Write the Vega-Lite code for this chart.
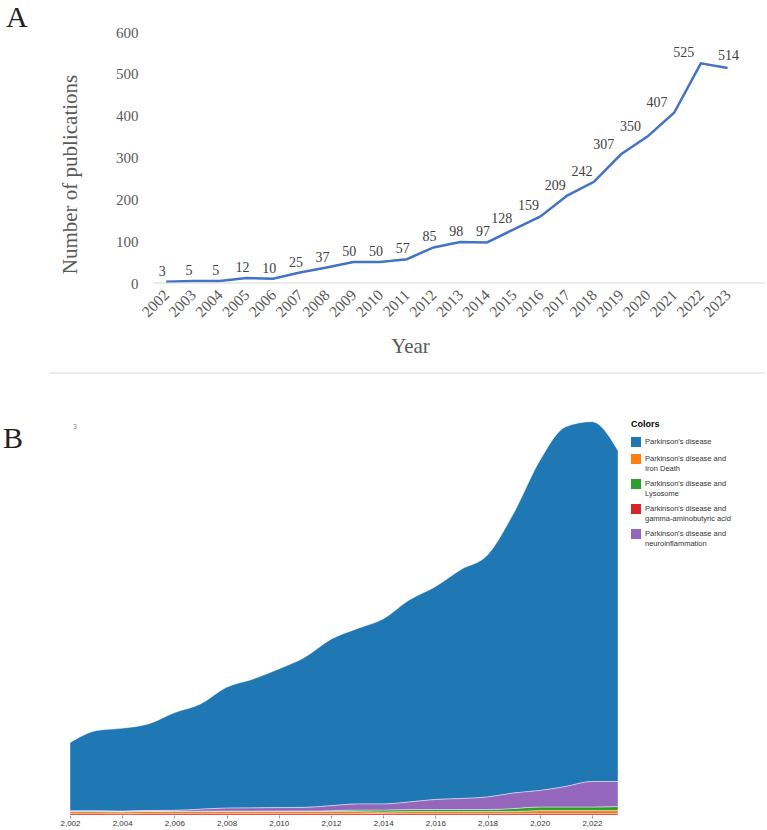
{
  "$schema": "https://vega.github.io/schema/vega-lite/v6.json",
  "background": "white",
  "padding": {"left": 3, "top": 3, "right": 0, "bottom": 0},
  "config": {"view": {"stroke": null}, "font": "Liberation Sans", "axisX": {"labelOverlap": false}},
  "bounds": "flush",
  "spacing": 47,
  "resolve": {"scale": {"color": "independent"}, "legend": {"color": "independent"}},
  "vconcat": [
    {
      "width": 695,
      "height": 251,
      "title": {"text": "A", "anchor": "start", "frame": "group", "font": "Liberation Serif", "fontSize": 30, "fontWeight": "normal", "color": "#222222", "dx": -64, "dy": 8, "offset": 0},
      "data": {"values": [
        {"year": 2002, "count": 3}, {"year": 2003, "count": 5}, {"year": 2004, "count": 5}, {"year": 2005, "count": 12},
        {"year": 2006, "count": 10}, {"year": 2007, "count": 25}, {"year": 2008, "count": 37}, {"year": 2009, "count": 50},
        {"year": 2010, "count": 50}, {"year": 2011, "count": 57}, {"year": 2012, "count": 85}, {"year": 2013, "count": 98},
        {"year": 2014, "count": 97}, {"year": 2015, "count": 128}, {"year": 2016, "count": 159}, {"year": 2017, "count": 209},
        {"year": 2018, "count": 242}, {"year": 2019, "count": 307}, {"year": 2020, "count": 350}, {"year": 2021, "count": 407},
        {"year": 2022, "count": 525}, {"year": 2023, "count": 514}
      ]},
      "layer": [
        {
          "mark": {"type": "line", "color": "#4472c4", "strokeWidth": 2.5},
          "encoding": {
            "x": {"field": "year", "type": "quantitative", "scale": {"domain": [1998.4, 2024.4], "nice": false, "zero": false},
              "axis": {"title": "Year", "values": [2002,2003,2004,2005,2006,2007,2008,2009,2010,2011,2012,2013,2014,2015,2016,2017,2018,2019,2020,2021,2022,2023],
                "tickCount": 40, "format": "d", "labelAngle": -45, "labelAlign": "right", "labelBaseline": "middle", "labelPadding": 9, "labelOverlap": false, "labelFlush": false, "labelBound": false,
                "ticks": false, "domain": false, "grid": false, "labelFont": "Liberation Serif", "labelFontSize": 15.5, "labelColor": "#595959",
                "titleFont": "Liberation Serif", "titleFontSize": 21, "titleFontWeight": "normal", "titleColor": "#595959",
                "titleX": 340, "titleY": 63, "titleAlign": "center", "titleBaseline": "middle", "titleAnchor": null}},
            "y": {"field": "count", "type": "quantitative", "scale": {"domain": [0, 600], "nice": false},
              "axis": {"title": "Number of publications", "offset": -83, "domain": false, "ticks": false, "grid": false,
                "values": [0, 100, 200, 300, 400, 500, 600], "labelFont": "Liberation Serif", "labelFontSize": 15, "labelColor": "#595959", "labelPadding": 15,
                "titleFont": "Liberation Serif", "titleFontSize": 21, "titleFontWeight": "normal", "titleColor": "#595959",
                "titleX": -83, "titleY": 142, "titleAngle": -90, "titleAlign": "center", "titleBaseline": "middle", "titleAnchor": null}}
          }
        },
        {
          "data": {"values": [{}]},
          "mark": {"type": "rule", "color": "#d9d9d9", "strokeWidth": 1},
          "encoding": {
            "x": {"datum": 2001.5, "type": "quantitative"},
            "x2": {"datum": 2024.4},
            "y": {"datum": 0, "type": "quantitative"}
          }
        },
        {
          "transform": [{"filter": "datum.year <= 2014"}],
          "mark": {"type": "text", "font": "Liberation Serif", "fontSize": 14, "color": "#404040", "dx": -4, "dy": -10, "baseline": "middle"},
          "encoding": {"x": {"field": "year", "type": "quantitative"}, "y": {"field": "count", "type": "quantitative"}, "text": {"field": "count", "type": "quantitative"}}
        },
        {
          "transform": [{"filter": "datum.year >= 2015 && datum.year <= 2018"}],
          "mark": {"type": "text", "font": "Liberation Serif", "fontSize": 14, "color": "#404040", "dx": -12, "dy": -10, "baseline": "middle"},
          "encoding": {"x": {"field": "year", "type": "quantitative"}, "y": {"field": "count", "type": "quantitative"}, "text": {"field": "count", "type": "quantitative"}}
        },
        {
          "transform": [{"filter": "datum.year >= 2019 && datum.year <= 2022"}],
          "mark": {"type": "text", "font": "Liberation Serif", "fontSize": 14, "color": "#404040", "dx": -17, "dy": -10, "baseline": "middle"},
          "encoding": {"x": {"field": "year", "type": "quantitative"}, "y": {"field": "count", "type": "quantitative"}, "text": {"field": "count", "type": "quantitative"}}
        },
        {
          "transform": [{"filter": "datum.year == 2023"}],
          "mark": {"type": "text", "font": "Liberation Serif", "fontSize": 14, "color": "#404040", "dx": 1, "dy": -12, "baseline": "middle"},
          "encoding": {"x": {"field": "year", "type": "quantitative"}, "y": {"field": "count", "type": "quantitative"}, "text": {"field": "count", "type": "quantitative"}}
        }
      ]
    },
    {
      "width": 695,
      "height": 43,
      "data": {"values": [{}]},
      "mark": {"type": "rule", "color": "#d9d9d9", "strokeWidth": 1.2},
      "encoding": {
        "x": {"datum": -0.03, "type": "quantitative", "scale": {"domain": [0, 1], "nice": false}, "axis": null},
        "x2": {"datum": 1},
        "y": {"datum": 0, "type": "quantitative", "scale": {"domain": [0, 1]}, "axis": null}
      }
    },
    {
      "width": 548,
      "height": 395,
      "title": {"text": "B", "anchor": "start", "frame": "group", "font": "Liberation Serif", "fontSize": 30, "fontWeight": "normal", "color": "#222222", "dx": -67, "dy": 34, "offset": 0},
      "data": {"values": [
        {"year": 2002, "series": "Parkinson's disease", "value": 68.2},
        {"year": 2003, "series": "Parkinson's disease", "value": 80.2},
        {"year": 2004, "series": "Parkinson's disease", "value": 82.9},
        {"year": 2005, "series": "Parkinson's disease", "value": 86.5},
        {"year": 2006, "series": "Parkinson's disease", "value": 97.7},
        {"year": 2007, "series": "Parkinson's disease", "value": 105.2},
        {"year": 2008, "series": "Parkinson's disease", "value": 120.8},
        {"year": 2009, "series": "Parkinson's disease", "value": 128.6},
        {"year": 2010, "series": "Parkinson's disease", "value": 138.6},
        {"year": 2011, "series": "Parkinson's disease", "value": 150.1},
        {"year": 2012, "series": "Parkinson's disease", "value": 166.4},
        {"year": 2013, "series": "Parkinson's disease", "value": 175.3},
        {"year": 2014, "series": "Parkinson's disease", "value": 185.0},
        {"year": 2015, "series": "Parkinson's disease", "value": 202.0},
        {"year": 2016, "series": "Parkinson's disease", "value": 212.8},
        {"year": 2017, "series": "Parkinson's disease", "value": 229.2},
        {"year": 2018, "series": "Parkinson's disease", "value": 242.0},
        {"year": 2019, "series": "Parkinson's disease", "value": 279.7},
        {"year": 2020, "series": "Parkinson's disease", "value": 329.8},
        {"year": 2021, "series": "Parkinson's disease", "value": 359.8},
        {"year": 2022, "series": "Parkinson's disease", "value": 359.8},
        {"year": 2023, "series": "Parkinson's disease", "value": 330.8},
        {"year": 2002, "series": "Parkinson's disease and Iron Death", "value": 2.0},
        {"year": 2003, "series": "Parkinson's disease and Iron Death", "value": 2.0},
        {"year": 2004, "series": "Parkinson's disease and Iron Death", "value": 2.0},
        {"year": 2005, "series": "Parkinson's disease and Iron Death", "value": 2.2},
        {"year": 2006, "series": "Parkinson's disease and Iron Death", "value": 2.0},
        {"year": 2007, "series": "Parkinson's disease and Iron Death", "value": 2.0},
        {"year": 2008, "series": "Parkinson's disease and Iron Death", "value": 2.0},
        {"year": 2009, "series": "Parkinson's disease and Iron Death", "value": 2.0},
        {"year": 2010, "series": "Parkinson's disease and Iron Death", "value": 2.0},
        {"year": 2011, "series": "Parkinson's disease and Iron Death", "value": 2.0},
        {"year": 2012, "series": "Parkinson's disease and Iron Death", "value": 2.0},
        {"year": 2013, "series": "Parkinson's disease and Iron Death", "value": 2.0},
        {"year": 2014, "series": "Parkinson's disease and Iron Death", "value": 1.5},
        {"year": 2015, "series": "Parkinson's disease and Iron Death", "value": 2.0},
        {"year": 2016, "series": "Parkinson's disease and Iron Death", "value": 2.0},
        {"year": 2017, "series": "Parkinson's disease and Iron Death", "value": 2.0},
        {"year": 2018, "series": "Parkinson's disease and Iron Death", "value": 2.0},
        {"year": 2019, "series": "Parkinson's disease and Iron Death", "value": 2.0},
        {"year": 2020, "series": "Parkinson's disease and Iron Death", "value": 3.0},
        {"year": 2021, "series": "Parkinson's disease and Iron Death", "value": 3.0},
        {"year": 2022, "series": "Parkinson's disease and Iron Death", "value": 3.0},
        {"year": 2023, "series": "Parkinson's disease and Iron Death", "value": 3.0},
        {"year": 2002, "series": "Parkinson's disease and Lysosome", "value": 0.3},
        {"year": 2003, "series": "Parkinson's disease and Lysosome", "value": 0.3},
        {"year": 2004, "series": "Parkinson's disease and Lysosome", "value": 0.3},
        {"year": 2005, "series": "Parkinson's disease and Lysosome", "value": 0.3},
        {"year": 2006, "series": "Parkinson's disease and Lysosome", "value": 0.3},
        {"year": 2007, "series": "Parkinson's disease and Lysosome", "value": 0.3},
        {"year": 2008, "series": "Parkinson's disease and Lysosome", "value": 0.4},
        {"year": 2009, "series": "Parkinson's disease and Lysosome", "value": 0.4},
        {"year": 2010, "series": "Parkinson's disease and Lysosome", "value": 0.5},
        {"year": 2011, "series": "Parkinson's disease and Lysosome", "value": 0.5},
        {"year": 2012, "series": "Parkinson's disease and Lysosome", "value": 0.8},
        {"year": 2013, "series": "Parkinson's disease and Lysosome", "value": 1.5},
        {"year": 2014, "series": "Parkinson's disease and Lysosome", "value": 2.0},
        {"year": 2015, "series": "Parkinson's disease and Lysosome", "value": 2.0},
        {"year": 2016, "series": "Parkinson's disease and Lysosome", "value": 2.0},
        {"year": 2017, "series": "Parkinson's disease and Lysosome", "value": 2.0},
        {"year": 2018, "series": "Parkinson's disease and Lysosome", "value": 2.0},
        {"year": 2019, "series": "Parkinson's disease and Lysosome", "value": 3.0},
        {"year": 2020, "series": "Parkinson's disease and Lysosome", "value": 3.5},
        {"year": 2021, "series": "Parkinson's disease and Lysosome", "value": 3.5},
        {"year": 2022, "series": "Parkinson's disease and Lysosome", "value": 3.5},
        {"year": 2023, "series": "Parkinson's disease and Lysosome", "value": 4.0},
        {"year": 2002, "series": "Parkinson's disease and gamma-aminobutyric acid", "value": 1.5},
        {"year": 2003, "series": "Parkinson's disease and gamma-aminobutyric acid", "value": 1.5},
        {"year": 2004, "series": "Parkinson's disease and gamma-aminobutyric acid", "value": 1.2},
        {"year": 2005, "series": "Parkinson's disease and gamma-aminobutyric acid", "value": 1.5},
        {"year": 2006, "series": "Parkinson's disease and gamma-aminobutyric acid", "value": 1.5},
        {"year": 2007, "series": "Parkinson's disease and gamma-aminobutyric acid", "value": 1.5},
        {"year": 2008, "series": "Parkinson's disease and gamma-aminobutyric acid", "value": 1.5},
        {"year": 2009, "series": "Parkinson's disease and gamma-aminobutyric acid", "value": 1.5},
        {"year": 2010, "series": "Parkinson's disease and gamma-aminobutyric acid", "value": 1.5},
        {"year": 2011, "series": "Parkinson's disease and gamma-aminobutyric acid", "value": 1.5},
        {"year": 2012, "series": "Parkinson's disease and gamma-aminobutyric acid", "value": 1.5},
        {"year": 2013, "series": "Parkinson's disease and gamma-aminobutyric acid", "value": 1.5},
        {"year": 2014, "series": "Parkinson's disease and gamma-aminobutyric acid", "value": 1.5},
        {"year": 2015, "series": "Parkinson's disease and gamma-aminobutyric acid", "value": 1.5},
        {"year": 2016, "series": "Parkinson's disease and gamma-aminobutyric acid", "value": 1.5},
        {"year": 2017, "series": "Parkinson's disease and gamma-aminobutyric acid", "value": 1.5},
        {"year": 2018, "series": "Parkinson's disease and gamma-aminobutyric acid", "value": 1.5},
        {"year": 2019, "series": "Parkinson's disease and gamma-aminobutyric acid", "value": 1.5},
        {"year": 2020, "series": "Parkinson's disease and gamma-aminobutyric acid", "value": 1.5},
        {"year": 2021, "series": "Parkinson's disease and gamma-aminobutyric acid", "value": 1.5},
        {"year": 2022, "series": "Parkinson's disease and gamma-aminobutyric acid", "value": 1.5},
        {"year": 2023, "series": "Parkinson's disease and gamma-aminobutyric acid", "value": 1.5},
        {"year": 2002, "series": "Parkinson's disease and neuroinflammation", "value": 0.3},
        {"year": 2003, "series": "Parkinson's disease and neuroinflammation", "value": 0.3},
        {"year": 2004, "series": "Parkinson's disease and neuroinflammation", "value": 0.3},
        {"year": 2005, "series": "Parkinson's disease and neuroinflammation", "value": 0.5},
        {"year": 2006, "series": "Parkinson's disease and neuroinflammation", "value": 0.8},
        {"year": 2007, "series": "Parkinson's disease and neuroinflammation", "value": 2.0},
        {"year": 2008, "series": "Parkinson's disease and neuroinflammation", "value": 3.0},
        {"year": 2009, "series": "Parkinson's disease and neuroinflammation", "value": 3.2},
        {"year": 2010, "series": "Parkinson's disease and neuroinflammation", "value": 3.4},
        {"year": 2011, "series": "Parkinson's disease and neuroinflammation", "value": 3.6},
        {"year": 2012, "series": "Parkinson's disease and neuroinflammation", "value": 5.0},
        {"year": 2013, "series": "Parkinson's disease and neuroinflammation", "value": 6.0},
        {"year": 2014, "series": "Parkinson's disease and neuroinflammation", "value": 6.0},
        {"year": 2015, "series": "Parkinson's disease and neuroinflammation", "value": 7.5},
        {"year": 2016, "series": "Parkinson's disease and neuroinflammation", "value": 10.0},
        {"year": 2017, "series": "Parkinson's disease and neuroinflammation", "value": 11.0},
        {"year": 2018, "series": "Parkinson's disease and neuroinflammation", "value": 12.5},
        {"year": 2019, "series": "Parkinson's disease and neuroinflammation", "value": 15.5},
        {"year": 2020, "series": "Parkinson's disease and neuroinflammation", "value": 16.5},
        {"year": 2021, "series": "Parkinson's disease and neuroinflammation", "value": 20.5},
        {"year": 2022, "series": "Parkinson's disease and neuroinflammation", "value": 25.5},
        {"year": 2023, "series": "Parkinson's disease and neuroinflammation", "value": 25.0}
      ]},
      "transform": [
        {"calculate": "indexof([\"Parkinson's disease and gamma-aminobutyric acid\", \"Parkinson's disease and Iron Death\", \"Parkinson's disease and Lysosome\", \"Parkinson's disease and neuroinflammation\", \"Parkinson's disease\"], datum.series)", "as": "stackOrder"}
      ],
      "layer": [
        {
          "mark": {"type": "area", "interpolate": "monotone", "stroke": "#ffffff", "strokeWidth": 0.6, "strokeOpacity": 0.7},
          "encoding": {
            "x": {"field": "year", "type": "quantitative", "scale": {"domain": [2002, 2023], "nice": false, "zero": false},
              "axis": {"title": null, "values": [2002, 2004, 2006, 2008, 2010, 2012, 2014, 2016, 2018, 2020, 2022], "tickCount": 20, "format": ",d",
                "labelFont": "Liberation Sans", "labelFontSize": 8, "labelColor": "#333333", "labelPadding": 1, "labelFlush": false,
                "tickColor": "#999999", "tickSize": 3, "domain": false, "grid": false}},
            "y": {"field": "value", "type": "quantitative", "stack": "zero", "scale": {"domain": [0, 395], "nice": false}, "axis": null},
            "color": {"field": "series", "type": "nominal",
              "scale": {"domain": ["Parkinson's disease", "Parkinson's disease and Iron Death", "Parkinson's disease and Lysosome", "Parkinson's disease and gamma-aminobutyric acid", "Parkinson's disease and neuroinflammation"],
                "range": ["#1f77b4", "#ff7f0e", "#2ca02c", "#d62728", "#9467bd"]},
              "legend": {"title": "Colors", "orient": "right", "offset": 11, "padding": 0,
                "titleFont": "Liberation Sans", "titleFontSize": 9, "titleFontWeight": "bold", "titleColor": "#000000", "titlePadding": 8,
                "labelFont": "Liberation Sans", "labelFontSize": 7.5, "labelColor": "#333333", "labelLimit": 200,
                "symbolType": "square", "symbolSize": 100, "symbolStrokeWidth": 0, "rowPadding": 7,
                "labelExpr": "indexof(datum.label, ' and ') > 0 ? [slice(datum.label, 0, indexof(datum.label, ' and ') + 4), slice(datum.label, indexof(datum.label, ' and ') + 5)] : datum.label"}},
            "order": {"field": "stackOrder", "type": "quantitative"}
          }
        },
        {
          "data": {"values": [{}]},
          "mark": {"type": "text", "text": "3", "font": "Liberation Sans", "fontSize": 7, "color": "#888888", "align": "left", "baseline": "middle", "dx": 3},
          "encoding": {"x": {"datum": 2002, "type": "quantitative"}, "y": {"datum": 388, "type": "quantitative"}}
        }
      ]
    }
  ]
}
